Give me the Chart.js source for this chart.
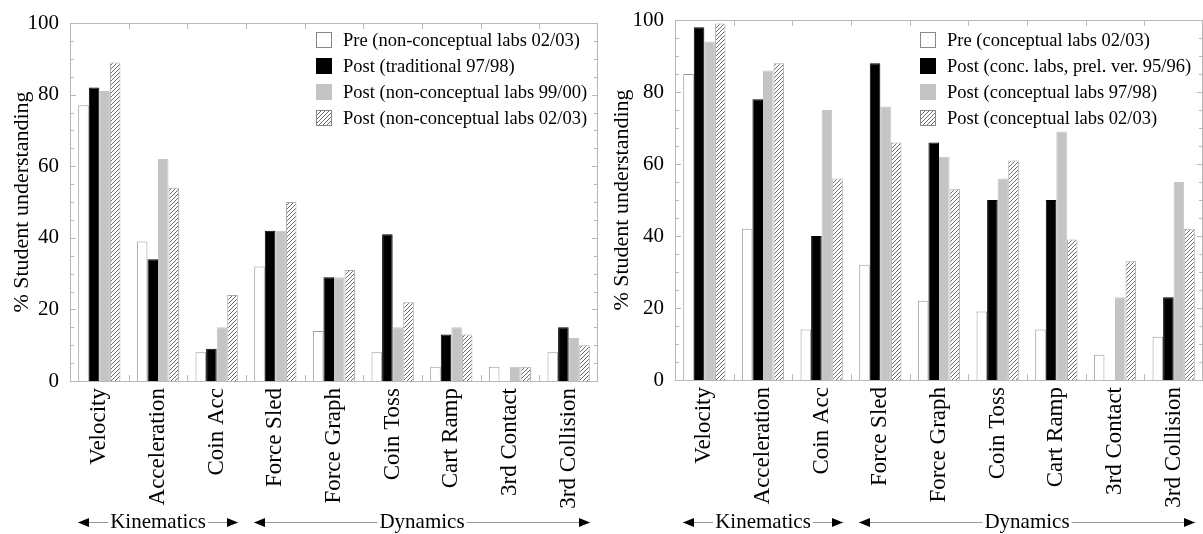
<!DOCTYPE html>
<html>
<head>
<meta charset="utf-8">
<script src="https://cdn.jsdelivr.net/npm/chart.js@4.4.1/dist/chart.umd.min.js"></script>
<style>
    html, body { margin: 0; padding: 0; background: #fff; }
    body { width: 1203px; height: 534px; overflow: hidden; display: flex; }
    canvas { display: block; }
</style>
</head>
<body>
<canvas id="chartNonConceptual" width="600" height="534"></canvas>
<canvas id="chartConceptual" width="603" height="534"></canvas>
<script>
// Categories (tasks) shared by both panels
const categories = ['Velocity', 'Acceleration', 'Coin Acc', 'Force Sled', 'Force Graph',
    'Coin Toss', 'Cart Ramp', '3rd Contact', '3rd Collision'];
const topicGroups = [
    { label: 'Kinematics', from: 0, to: 2 },
    { label: 'Dynamics', from: 3, to: 8 },
];
const yTicks = [0, 20, 40, 60, 80, 100];

// Left panel: non-conceptual labs
const leftNames = ['Pre (non-conceptual labs 02/03)', 'Post (traditional 97/98)',
    'Post (non-conceptual labs 99/00)', 'Post (non-conceptual labs 02/03)'];
const leftPre0203 = [77, 39, 8, 32, 14, 8, 4, 4, 8];
const leftPostTrad9798 = [82, 34, 9, 42, 29, 41, 13, 0, 15];
const leftPost9900 = [81, 62, 15, 42, 29, 15, 15, 4, 12];
const leftPost0203 = [89, 54, 24, 50, 31, 22, 13, 4, 10];

// Right panel: conceptual labs
const rightNames = ['Pre (conceptual labs 02/03)', 'Post (conc. labs, prel. ver. 95/96)',
    'Post (conceptual labs 97/98)', 'Post (conceptual labs 02/03)'];
const rightPre0203 = [85, 42, 14, 32, 22, 19, 14, 7, 12];
const rightPost9596 = [98, 78, 40, 88, 66, 50, 50, 0, 23];
const rightPost9798 = [94, 86, 75, 76, 62, 56, 69, 23, 55];
const rightPost0203 = [99, 88, 56, 66, 53, 61, 39, 33, 42];

const SERIF = '"Liberation Serif", "DejaVu Serif", serif';

function makeHatch() {
    const c = document.createElement('canvas');
    c.width = 4; c.height = 4;
    const g = c.getContext('2d');
    g.fillStyle = '#fff';
    g.fillRect(0, 0, 4, 4);
    g.strokeStyle = '#6a6a6a';
    g.lineWidth = 1;
    g.beginPath();
    g.moveTo(-1, 5); g.lineTo(5, -1);
    g.moveTo(-1, 1); g.lineTo(1, -1);
    g.moveTo(3, 5); g.lineTo(5, 3);
    g.stroke();
    return g.createPattern(c, 'repeat');
}
const hatch = makeHatch();

function makeDatasets(names, series) {
    const fills = ['#ffffff', '#000000', '#c4c4c4', hatch];
    const borders = ['#9a9a9a', '#000000', '#c4c4c4', '#a8a8a8'];
    return names.map((label, i) => ({
        label,
        data: series[i],
        backgroundColor: fills[i],
        borderColor: borders[i],
        borderWidth: 1,
    }));
}

// plot frame with small inward ticks
const framePlugin = {
    id: 'frame',
    afterDatasetsDraw(chart) {
        const { ctx, chartArea: a, scales: { x, y } } = chart;
        ctx.save();
        ctx.strokeStyle = '#b8b8b8';
        ctx.lineWidth = 1;
        ctx.strokeRect(a.left + 0.5, a.top + 0.5, a.right - a.left - 1, a.bottom - a.top);
        ctx.beginPath();
        for (let v = 5; v < 100; v += 5) {
            const py = Math.round(y.getPixelForValue(v)) + 0.5;
            const len = v % 20 === 0 ? 6 : 4;
            ctx.moveTo(a.left, py); ctx.lineTo(a.left + len, py);
            ctx.moveTo(a.right, py); ctx.lineTo(a.right - len, py);
        }
        const half = (x.getPixelForValue(1) - x.getPixelForValue(0)) / 2;
        for (let i = 0; i < categories.length - 1; i++) {
            const px = Math.round(x.getPixelForValue(i) + half) + 0.5;
            ctx.moveTo(px, a.top); ctx.lineTo(px, a.top + 6);
            ctx.moveTo(px, a.bottom); ctx.lineTo(px, a.bottom - 6);
        }
        ctx.stroke();
        ctx.restore();
    }
};

// Kinematics / Dynamics arrows under the tick labels
const groupsPlugin = {
    id: 'topicGroups',
    afterDraw(chart, args, opts) {
        const { ctx, scales: { x } } = chart;
        const half = (x.getPixelForValue(1) - x.getPixelForValue(0)) / 2;
        const yLine = opts.y;
        ctx.save();
        ctx.font = '21px ' + SERIF;
        ctx.textAlign = 'center';
        ctx.textBaseline = 'middle';
        topicGroups.forEach(g => {
            const x0 = x.getPixelForValue(g.from) - half + 8;
            const x1 = x.getPixelForValue(g.to) + half - 8;
            ctx.strokeStyle = '#9a9a9a';
            ctx.lineWidth = 1;
            ctx.beginPath();
            ctx.moveTo(x0, yLine + 0.5); ctx.lineTo(x1, yLine + 0.5);
            ctx.stroke();
            ctx.fillStyle = '#000';
            ctx.beginPath();
            ctx.moveTo(x0, yLine + 0.5); ctx.lineTo(x0 + 11, yLine - 4); ctx.lineTo(x0 + 11, yLine + 5);
            ctx.closePath(); ctx.fill();
            ctx.beginPath();
            ctx.moveTo(x1, yLine + 0.5); ctx.lineTo(x1 - 11, yLine - 4); ctx.lineTo(x1 - 11, yLine + 5);
            ctx.closePath(); ctx.fill();
            const mid = (x0 + x1) / 2;
            const w = ctx.measureText(g.label).width;
            ctx.fillStyle = '#fff';
            ctx.fillRect(mid - w / 2 - 2, yLine - 10, w + 4, 20);
            ctx.fillStyle = '#000';
            ctx.fillText(g.label, mid, yLine);
        });
        ctx.restore();
    }
};

// legend inside the plot, top right
const legendPlugin = {
    id: 'legendBox',
    afterDraw(chart, args, opts) {
        const { ctx, chartArea: a } = chart;
        const bx = a.right - opts.offsetRight;
        ctx.save();
        ctx.font = '18.5px ' + SERIF;
        ctx.textBaseline = 'middle';
        ctx.textAlign = 'left';
        chart.data.datasets.forEach((ds, i) => {
            const cy = a.top + opts.firstRow + i * 26;
            ctx.fillStyle = ds.backgroundColor;
            ctx.fillRect(bx, cy - 8, 16, 16);
            ctx.strokeStyle = i === 1 ? '#000' : (i === 2 ? '#c4c4c4' : '#888');
            ctx.lineWidth = 1;
            ctx.strokeRect(bx + 0.5, cy - 7.5, 15, 15);
            ctx.fillStyle = '#000';
            ctx.fillText(ds.label, bx + 27, cy + 1);
        });
        ctx.restore();
    }
};

function buildChart(canvasId, names, series, layout) {
    return new Chart(document.getElementById(canvasId), {
        type: 'bar',
        data: { labels: categories, datasets: makeDatasets(names, series) },
        options: {
            responsive: false,
            animation: false,
            devicePixelRatio: 1,
            layout: { padding: { top: layout.top, right: layout.right, left: 0, bottom: 0 } },
            datasets: { bar: { categoryPercentage: 0.72, barPercentage: 1.0 } },
            plugins: {
                legend: { display: false },
                tooltip: { enabled: false },
                legendBox: { offsetRight: layout.legendOffset, firstRow: layout.legendRow },
                topicGroups: { y: 522 },
            },
            scales: {
                x: {
                    grid: { display: false, drawTicks: false },
                    border: { display: false },
                    ticks: {
                        autoSkip: false, maxRotation: 90, minRotation: 90, padding: 7,
                        color: '#000', font: { family: SERIF, size: 23 }
                    },
                    afterFit: s => {
                        s.height = 534 - layout.bottom;
                        s.paddingLeft = 0;
                        s.paddingRight = 0;
                    }
                },
                y: {
                    min: 0, max: 100,
                    afterBuildTicks: s => { s.ticks = yTicks.map(v => ({ value: v })); },
                    grid: { display: false, drawTicks: false },
                    border: { display: false },
                    ticks: { padding: 11, color: '#000', font: { family: SERIF, size: 21 } },
                    title: {
                        display: true, text: '% Student understanding', color: '#000',
                        font: { family: SERIF, size: 22 }, padding: { top: 9, bottom: 0 }
                    },
                    afterFit: s => {
                        s.width = layout.axisX;
                        s.paddingTop = 0;
                        s.paddingBottom = 0;
                    }
                }
            }
        },
        plugins: [framePlugin, groupsPlugin, legendPlugin]
    });
}

buildChart('chartNonConceptual', leftNames,
    [leftPre0203, leftPostTrad9798, leftPost9900, leftPost0203],
    { top: 23, bottom: 381, right: 2, axisX: 70, legendOffset: 282, legendRow: 17 });
buildChart('chartConceptual', rightNames,
    [rightPre0203, rightPost9596, rightPost9798, rightPost0203],
    { top: 20, bottom: 380, right: 0, axisX: 75, legendOffset: 283, legendRow: 20 });
</script>
</body>
</html>
